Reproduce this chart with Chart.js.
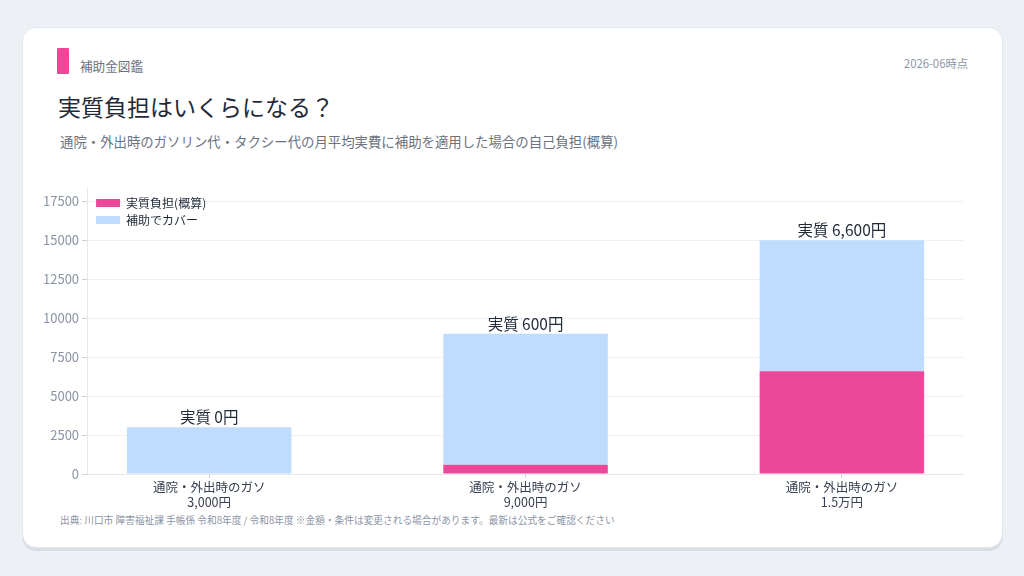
<!DOCTYPE html>
<html lang="ja">
<head>
<meta charset="utf-8">
<script src="https://cdn.jsdelivr.net/npm/chart.js@4"></script>
<style>
  html, body { margin: 0; padding: 0; }
  body {
    width: 1024px; height: 576px; overflow: hidden;
    background: #edf1f6;
    font-family: "Noto Sans CJK JP", "Noto Sans", sans-serif;
  }
  .card {
    position: absolute; left: 22px; top: 27px; width: 979px; height: 519px;
    background: #fff; border-radius: 14px;
    border: 1px solid #e2e7ee;
    box-shadow: 0 3px 0 #d9dee6;
  }
  .accent { position: absolute; left: 34px; top: 20px; width: 12px; height: 26px; background: #ec4899; border-radius: 1px; }
  .brand { position: absolute; left: 57px; top: 28px; font-size: 12.6px; color: #6b7280; }
  .date { position: absolute; right: 34px; top: 27px; font-size: 11.3px; color: #8b94a5; }
  .title { position: absolute; left: 35px; top: 61px; font-size: 23px; color: #1f2937; }
  .sub { position: absolute; left: 37px; top: 103px; font-size: 13.4px; color: #6b7280; }
  .src { position: absolute; left: 37px; top: 485px; font-size: 9.7px; color: #8b94a5; }
  .wrap { position: absolute; left: 17px; top: 150px; width: 924px; height: 334px; }
</style>
</head>
<body>
<div class="card">
  <div class="accent"></div>
  <div class="brand">補助金図鑑</div>
  <div class="date">2026-06時点</div>
  <div class="title">実質負担はいくらになる？</div>
  <div class="sub">通院・外出時のガソリン代・タクシー代の月平均実費に補助を適用した場合の自己負担(概算)</div>
  <div class="wrap"><canvas id="chart"></canvas></div>
  <div class="src">出典: 川口市 障害福祉課 手帳係 令和8年度 / 令和8年度 ※金額・条件は変更される場合があります。最新は公式をご確認ください</div>
</div>
<script>
// カテゴリ(2行ラベル)
const labels = [
  ['通院・外出時のガソ', '3,000円'],
  ['通院・外出時のガソ', '9,000円'],
  ['通院・外出時のガソ', '1.5万円']
];
// 実質負担(概算)
const selfPay = [0, 600, 6600];
// 補助でカバー
const covered = [3000, 8400, 8400];
// 上に出すラベル
const topLabels = ['実質 0円', '実質 600円', '実質 6,600円'];
// y軸の目盛り
const yTicks = [0, 2500, 5000, 7500, 10000, 12500, 15000, 17500];

const PINK = '#ec4899';
const BLUE = '#bfdbfe';
const FONT = '"Noto Sans CJK JP", "Noto Sans", sans-serif';

// 積み上げの上にラベルを描く
const topLabelPlugin = {
  id: 'topLabel',
  afterLayout(chart) {
    // 凡例をグラフ内で少し右下へずらす
    chart.legend.left += 4;
    chart.legend.top += 14;
  },
  afterDatasetsDraw(chart) {
    const ctx = chart.ctx;
    const meta = chart.getDatasetMeta(1);
    ctx.save();
    ctx.font = '15.5px ' + FONT;
    ctx.fillStyle = '#1f2937';
    ctx.textAlign = 'center';
    ctx.textBaseline = 'bottom';
    meta.data.forEach((bar, i) => {
      ctx.fillText(topLabels[i], bar.x, bar.y - 2);
    });
    ctx.restore();
  }
};

new Chart(document.getElementById('chart'), {
  type: 'bar',
  data: {
    datasets: [{
      label: '実質負担(概算)',
      data: selfPay.map((v, i) => ({ x: i, y: v })),
      backgroundColor: PINK
    }, {
      label: '補助でカバー',
      data: covered.map((v, i) => ({ x: i, y: v })),
      backgroundColor: BLUE
    }]
  },
  options: {
    responsive: true,
    maintainAspectRatio: false,
    animation: false,
    datasets: { bar: { categoryPercentage: 0.8, barPercentage: 0.65 } },
    plugins: {
      legend: {
        position: 'chartArea',
        align: 'start',
        labels: {
          boxWidth: 24, boxHeight: 8, padding: 5,
          color: '#1f2937',
          font: { size: 12, family: FONT }
        }
      },
      tooltip: { enabled: false }
    },
    scales: {
      x: {
        type: 'linear',
        stacked: true,
        offset: false,
        min: -0.386,
        max: 2.386,
        afterBuildTicks(scale) {
          scale.ticks = labels.map((_, i) => ({ value: i }));
        },
        ticks: {
          padding: 2,
          color: '#374151',
          font: { size: 12.5, family: FONT },
          callback: (v) => labels[v]
        },
        grid: { offset: false, drawOnChartArea: false, tickLength: 4, color: '#cbd2dc' },
        border: { color: '#e5e7eb' }
      },
      y: {
        stacked: true,
        min: 0,
        max: 18300,
        afterBuildTicks(scale) {
          scale.ticks = yTicks.map(v => ({ value: v }));
        },
        ticks: {
          padding: 3,
          color: '#8b94a5',
          font: { size: 13, family: FONT },
          callback: (v) => String(v)
        },
        grid: { color: '#eef0f3', tickLength: 5, tickColor: '#cbd2dc' },
        border: { color: '#e5e7eb' }
      }
    }
  },
  plugins: [topLabelPlugin]
});
</script>
</body>
</html>
